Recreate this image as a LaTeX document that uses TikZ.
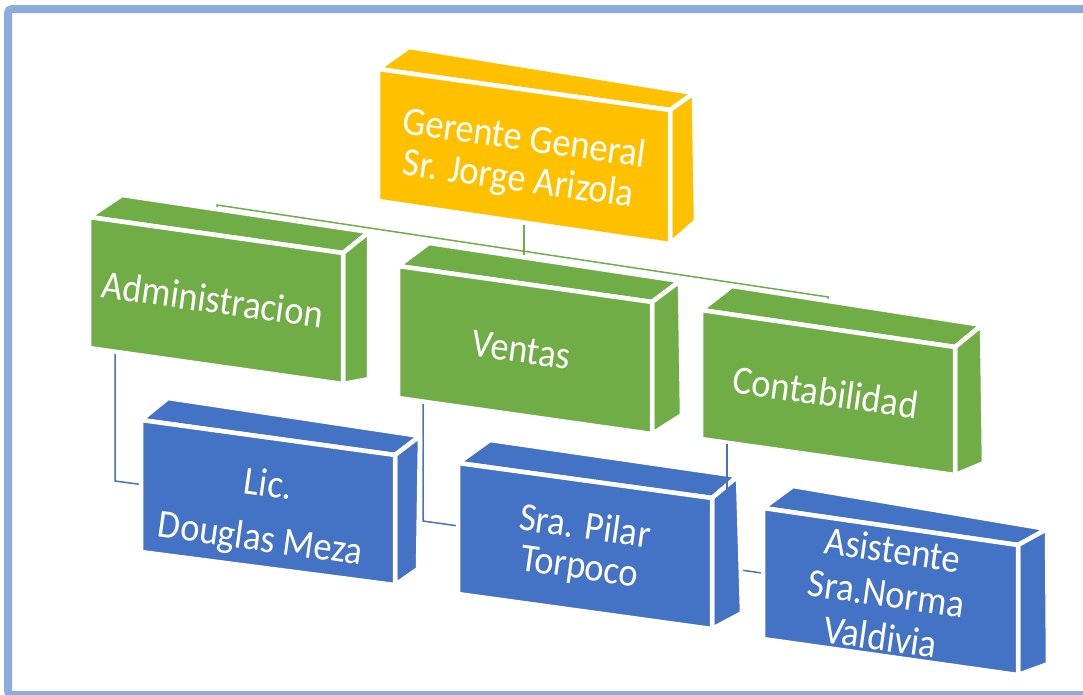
\documentclass[tikz,border=0pt]{standalone}
\usepackage{graphicx}
\usepackage{fontspec}
\setmainfont{Carlito}
\usetikzlibrary{calc}
\definecolor{gold}{HTML}{FFC000}
\definecolor{grn}{HTML}{70AD47}
\definecolor{blu}{HTML}{4472C4}
\definecolor{frm}{HTML}{8FAADC}
\newcommand\boxfaces[2]{%
  \filldraw[face=#2] (#1A)--(#1B)--(#1b)--(#1a)--cycle;
  \filldraw[face=#2] (#1b)--(#1B)--(#1C)--(#1c)--cycle;
  \filldraw[face=#2] (#1a)--(#1b)--(#1c)--(#1d)--cycle;
}
\newcommand\lbl[1]{\scalebox{0.91}[1]{\begin{tabular}{@{}c@{}}#1\end{tabular}}}
\begin{document}
\begin{tikzpicture}[x=1pt,y=-1pt,
  face/.style={fill=#1,draw=white,line width=4.5pt,line join=round},
  lbltxt/.style={text=white,font=\fontsize{40}{44}\selectfont,rotate=-8,inner sep=0pt},
  gline/.style={grn,line width=1.5pt},
  bline/.style={blu,line width=1.5pt}]
\useasboundingbox (0,0) rectangle (1083,694);
\draw[frm,line width=8pt,rounded corners=4pt] (8,9) rectangle (1100,695);
% corners
\coordinate (ga) at (378,69);  \coordinate (gb) at (670,110); \coordinate (gc) at (670,244); \coordinate (gd) at (378,201);
\coordinate (gA) at (409,47);  \coordinate (gB) at (694,93);  \coordinate (gC) at (696,221);
\coordinate (aa) at (89,217);  \coordinate (ab) at (343,253); \coordinate (ac) at (343,384); \coordinate (ad) at (89,348);
\coordinate (aA) at (122,195); \coordinate (aB) at (369,232); \coordinate (aC) at (369,379);
\coordinate (va) at (398,266); \coordinate (vb) at (652,302); \coordinate (vc) at (652,434); \coordinate (vd) at (398,398);
\coordinate (vA) at (429,243); \coordinate (vB) at (680,281); \coordinate (vC) at (682,415);
\coordinate (ca) at (701,310); \coordinate (cb) at (955,347); \coordinate (cc) at (955,475); \coordinate (cd) at (701,439);
\coordinate (cA) at (732,286); \coordinate (cB) at (982,325); \coordinate (cC) at (984,463);
\coordinate (la) at (141,420); \coordinate (lb) at (395,455); \coordinate (lc) at (395,585); \coordinate (ld) at (141,552);
\coordinate (lA) at (168,398); \coordinate (lB) at (420,436); \coordinate (lC) at (418,569);
\coordinate (pa) at (458,463); \coordinate (pb) at (712,498); \coordinate (pc) at (712,629); \coordinate (pd) at (458,594);
\coordinate (pA) at (490,440); \coordinate (pB) at (738,476); \coordinate (pC) at (742,613);
\coordinate (sa) at (763,508); \coordinate (sb) at (1018,545); \coordinate (sc) at (1018,675); \coordinate (sd) at (763,639);
\coordinate (sA) at (793,486); \coordinate (sB) at (1047,529); \coordinate (sC) at (1048,664);
% connector points
\coordinate (gtop) at (524,215); \coordinate (vtop) at (524,275);
\coordinate (busL) at (217,205); \coordinate (busR) at (828,297);
\coordinate (busLd) at (217,240); \coordinate (busRd) at (828,330);
\coordinate (a1) at (115,330); \coordinate (a2) at (115,481); \coordinate (a3) at (160,487);
\coordinate (v1) at (423,380); \coordinate (v2) at (423,521); \coordinate (v3) at (480,529);
\coordinate (c1) at (727,420); \coordinate (c2) at (727,568); \coordinate (c3) at (790,577);
\coordinate (c1a) at (727,444); \coordinate (c1b) at (727,489);
% connectors
\draw[gline] (gtop) -- (vtop);
\draw[gline] (busLd) -- (busL) -- (busR) -- (busRd);
\draw[bline] (a1) -- (a2) -- (a3);
\draw[bline] (v1) -- (v2) -- (v3);
\draw[bline] (c1) -- (c2) -- (c3);
% boxes
\boxfaces{g}{gold}
\boxfaces{a}{grn}
\boxfaces{v}{grn}
\boxfaces{c}{grn}
\boxfaces{l}{blu}
\boxfaces{p}{blu}
\boxfaces{s}{blu}
\draw[bline] (c1a) -- (c1b);
% labels
\node[lbltxt] (gerente) at (521,162) {\lbl{Gerente General\\[-3pt]Sr. Jorge Arizola}};
\node[lbltxt] (admin) at (212,304) {\lbl{Administracion}};
\node[lbltxt] (ventas) at (521,354) {\lbl{Ventas}};
\node[lbltxt] (contab) at (825,397) {\lbl{Contabilidad}};
\node[lbltxt] (lic) at (264,515) {\lbl{Lic.\\[11pt]Douglas Meza}};
\node[lbltxt] (pilar) at (582,550) {\lbl{Sra. Pilar\\[-4pt]Torpoco}};
\node[lbltxt] (asist) at (886,598) {\lbl{Asistente\\Sra.Norma\\Valdivia}};
\end{tikzpicture}
\end{document}
